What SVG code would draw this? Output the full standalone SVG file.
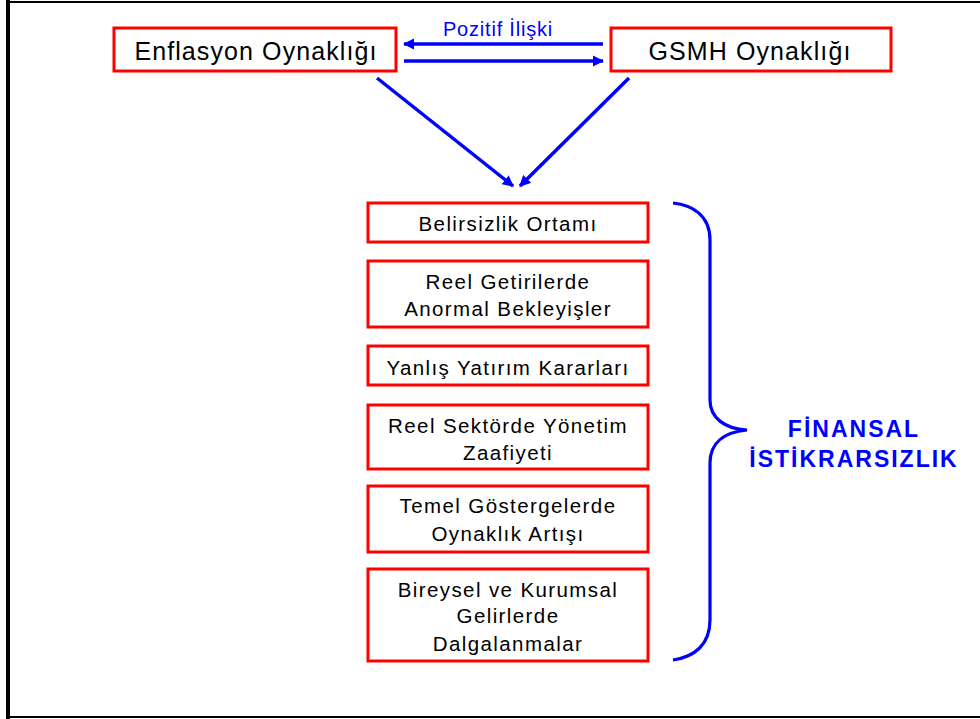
<svg xmlns="http://www.w3.org/2000/svg" width="980" height="719" viewBox="0 0 980 719">
<style>
.box{fill:#fff;stroke:#ff0000;stroke-width:3}
.t{font-family:"Liberation Sans",Arial,sans-serif;fill:#000;text-anchor:middle}
.big{font-size:25px;letter-spacing:1.1px}
.mid{font-size:20.5px;letter-spacing:1.4px}
.conn{stroke:#0000ff;stroke-width:3.5;fill:none}
.lbl{font-family:"Liberation Sans",Arial,sans-serif;fill:#0000ff;text-anchor:middle}
</style>
<defs>
<marker id="ah" viewBox="0 0 10 10" refX="9" refY="5" markerWidth="3.2" markerHeight="3.2" orient="auto" markerUnits="strokeWidth">
<path d="M0,0 L10,5 L0,10 Z" fill="#0000ff"/>
</marker>
</defs>
<rect width="980" height="719" fill="#fff"/>
<g id="frame" fill="none" stroke="#000">
<line x1="8" y1="0" x2="8" y2="719" stroke-width="4"/>
<line x1="8" y1="2" x2="980" y2="2" stroke-width="2"/>
<line x1="8" y1="717" x2="980" y2="717" stroke-width="2"/>
</g>
<g id="connectors">
<line class="conn" x1="603" y1="44" x2="404" y2="44" marker-end="url(#ah)"/>
<line class="conn" x1="404" y1="61" x2="603" y2="61" marker-end="url(#ah)"/>
<line class="conn" x1="377" y1="78" x2="513" y2="186" marker-end="url(#ah)"/>
<line class="conn" x1="629" y1="78" x2="520" y2="186" marker-end="url(#ah)"/>
<text class="lbl" x="498" y="36" font-size="20" letter-spacing="0.8">Pozitif İlişki</text>
</g>
<g id="enflasyon">
<rect class="box" x="114" y="28" width="282" height="43"/>
<text class="t big" x="256" y="60">Enflasyon Oynaklığı</text>
</g>
<g id="gsmh">
<rect class="box" x="611" y="28" width="280" height="43"/>
<text class="t big" x="750" y="60">GSMH Oynaklığı</text>
</g>
<g id="belirsizlik">
<rect class="box" x="368" y="203" width="280" height="39"/>
<text class="t mid" x="508" y="231">Belirsizlik Ortamı</text>
</g>
<g id="reel-getiri">
<rect class="box" x="368" y="261" width="280" height="66"/>
<text class="t mid" x="508" y="289">Reel Getirilerde</text>
<text class="t mid" x="508" y="316">Anormal Bekleyişler</text>
</g>
<g id="yanlis-yatirim">
<rect class="box" x="368" y="346" width="280" height="39"/>
<text class="t mid" x="508" y="375">Yanlış Yatırım Kararları</text>
</g>
<g id="reel-sektor">
<rect class="box" x="368" y="405" width="280" height="64"/>
<text class="t mid" x="508" y="433">Reel Sektörde Yönetim</text>
<text class="t mid" x="508" y="460">Zaafiyeti</text>
</g>
<g id="temel-gosterge">
<rect class="box" x="368" y="486" width="280" height="66"/>
<text class="t mid" x="508" y="513">Temel Göstergelerde</text>
<text class="t mid" x="508" y="541">Oynaklık Artışı</text>
</g>
<g id="bireysel">
<rect class="box" x="368" y="569" width="280" height="92"/>
<text class="t mid" x="508" y="597">Bireysel ve Kurumsal</text>
<text class="t mid" x="508" y="623">Gelirlerde</text>
<text class="t mid" x="508" y="651">Dalgalanmalar</text>
</g>
<g id="finansal">
<path d="M673,203 C692,205 710,215 710,240 L710,400 C710,418 725,429 747,430 C725,432 710,442 710,463 L710,620 C710,645 694,657 673,660" fill="none" stroke="#0000ff" stroke-width="3.2"/>
<text class="lbl" x="854" y="437" font-size="23" font-weight="bold" letter-spacing="2">FİNANSAL</text>
<text class="lbl" x="854" y="467" font-size="23" font-weight="bold" letter-spacing="2">İSTİKRARSIZLIK</text>
</g>
</svg>
